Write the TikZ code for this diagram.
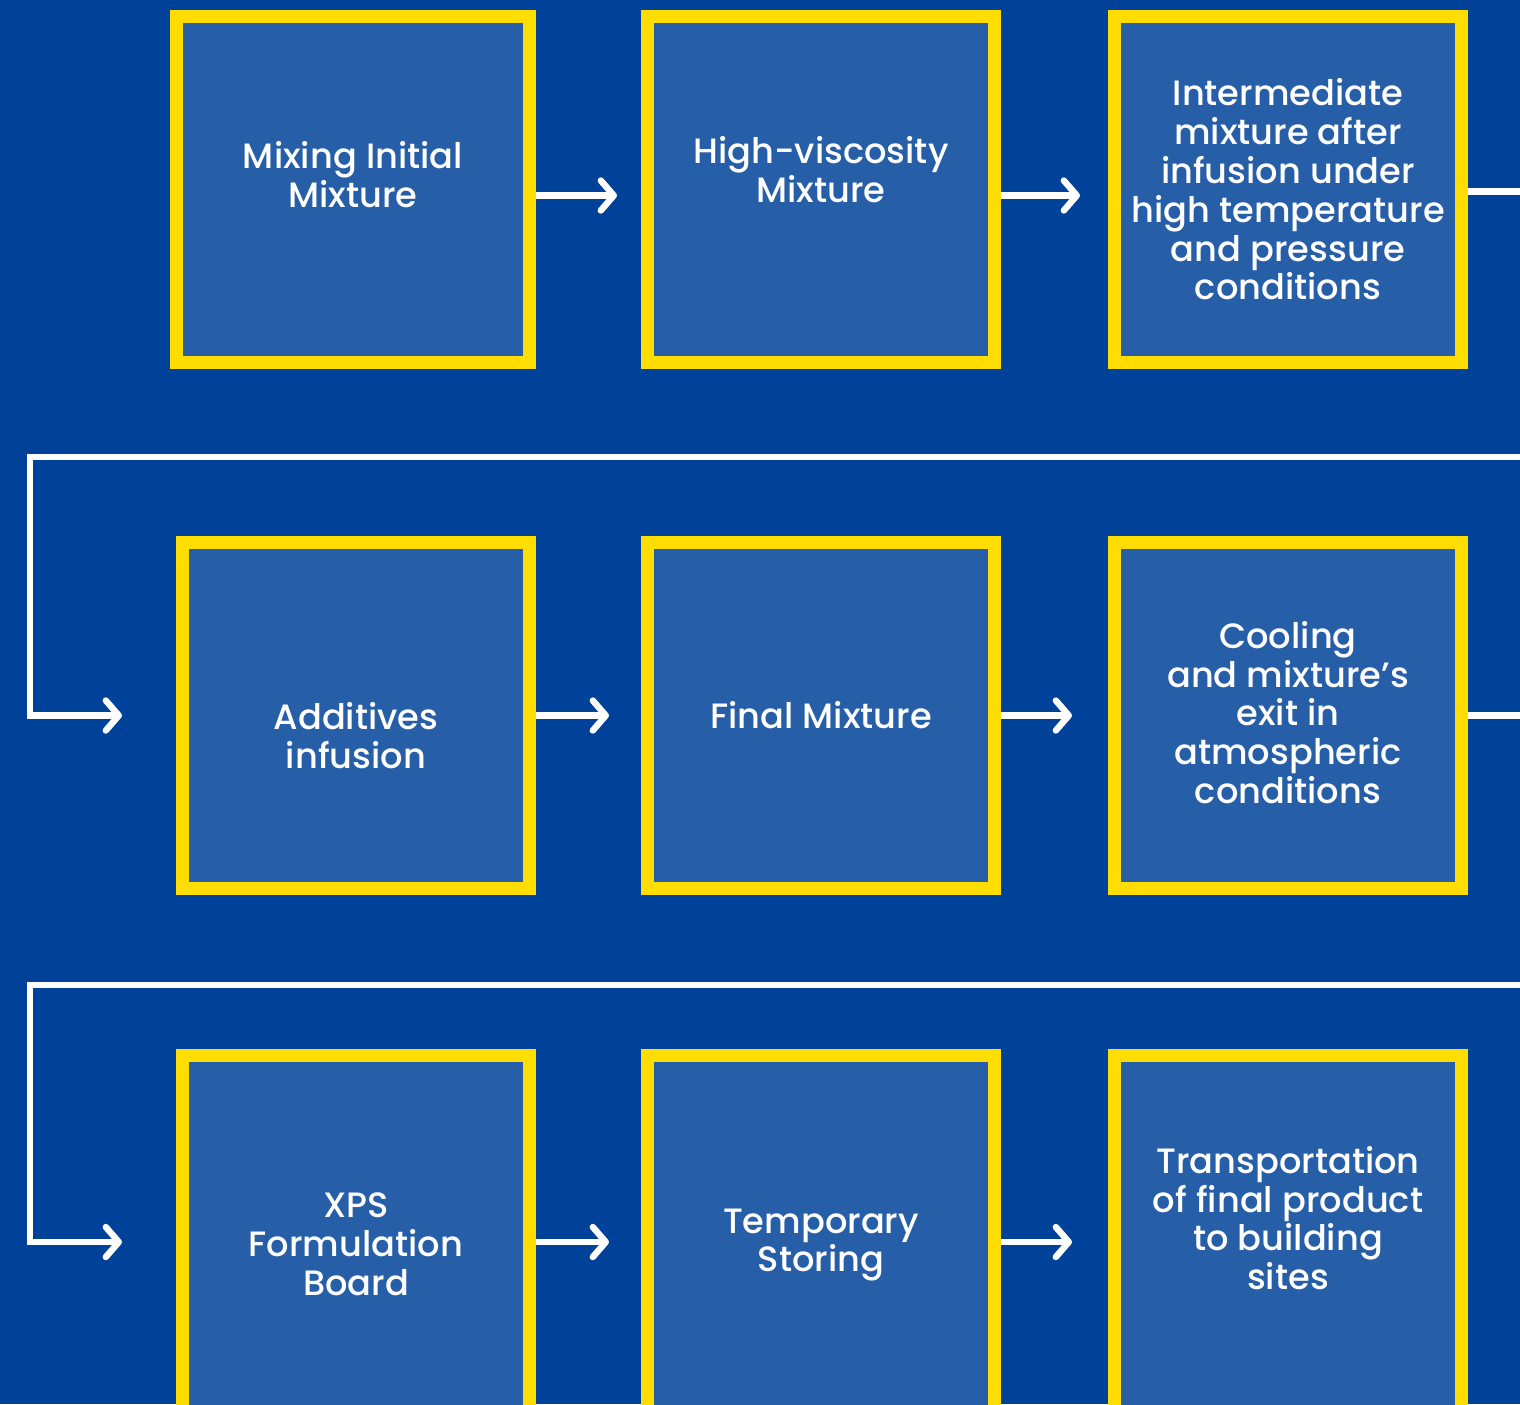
\documentclass[tikz,border=0pt]{standalone}
\usepackage{fontspec}
\setmainfont{Poppins}[UprightFont=* Medium]
\usetikzlibrary{arrows.meta}
\definecolor{bgblue}{RGB}{0,65,153}
\definecolor{boxblue}{RGB}{39,94,168}
\definecolor{boxyellow}{RGB}{255,221,0}
\tikzset{
  stepbox/.style={draw=boxyellow, line width=6.5pt, fill=boxblue,
    inner sep=0pt, minimum width=173.5pt, minimum height=173pt},
  steptext/.style={text=white, align=center, inner sep=0pt,
    font=\fontsize{17.6}{19.4}\selectfont},
  flow/.style={draw=white, line width=3.2pt, shorten >=12pt,
    -{Straight Barb[length=6.5pt, width=15pt, round]}},
  wire/.style={draw=white, line width=3.2pt}
}

\begin{document}
\begin{tikzpicture}[x=0.5pt, y=-0.5pt]
\useasboundingbox (0,0) rectangle (1520,1404);
\clip (0,0) rectangle (1520,1404);
\fill[bgblue] (0,0) rectangle (1520,1404);

%%%%%%%%%%
% Row 1
%%%%%%%%%%
\node[stepbox, minimum width=176.5pt, label={[steptext, yshift=7.5pt]center:Mixing Initial\\Mixture}] (mix) at (353,189.5) {};
\node[stepbox, label={[steptext, yshift=10pt]center:High-viscosity\\Mixture}] (visc) at (821,189.5) {};
\node[stepbox, label={[steptext]center:Intermediate\\mixture after\\infusion under\\high temperature\\and pressure\\conditions}] (inter) at (1288,189.5) {};

%%%%%%%%%%
% Row 2
%%%%%%%%%%
\node[stepbox, label={[steptext, yshift=-10pt]center:Additives\\infusion}] (addit) at (356,715.5) {};
\node[stepbox, label={[steptext]center:Final Mixture}] (final) at (821,715.5) {};
\node[stepbox, label={[steptext, yshift=1.5pt]center:Cooling\\and mixture’s\\exit in\\atmospheric\\conditions}] (cool) at (1288,715.5) {};

%%%%%%%%%%
% Row 3 (runs off the page)
%%%%%%%%%%
\node[stepbox, minimum height=186.5pt, label={[steptext, yshift=-1pt]center:XPS\\Formulation\\Board}] (xps) at (356,1242) {};
\node[stepbox, minimum height=186.5pt, label={[steptext, yshift=-1.5pt]center:Temporary\\Storing}] (store) at (821,1242) {};
\node[stepbox, minimum height=186.5pt, label={[steptext, yshift=12pt]center:Transportation\\of final product\\to building\\sites}] (trans) at (1288,1242) {};

% arrows within rows
\draw[flow] ([yshift=-3pt]mix.east) -- ([yshift=-3pt]visc.west);
\draw[flow, shorten >=14pt] ([yshift=-3pt]visc.east) -- ([yshift=-3pt]inter.west);
\draw[flow, shorten >=16pt] (addit) -- (final);
\draw[flow, shorten >=18pt] (final) -- (cool);
\draw[flow, shorten >=16pt] (xps) -- (store);
\draw[flow, shorten >=18pt] (store) -- (trans);

% row breaks
\coordinate (edge1) at (1530,457);
\coordinate (turn1) at (30,457);
\coordinate (edge2) at (1530,985);
\coordinate (turn2) at (30,985);
\draw[wire] ([yshift=-1pt]inter.east) -- ([yshift=-1pt]inter.east -| edge1);
\draw[flow, shorten >=27pt] (edge1) -- (turn1) |- (addit.west);
\draw[wire] (cool.east) -- (cool.east -| edge2);
\draw[flow, shorten >=27pt] (edge2) -- (turn2) |- (xps.west);

\end{tikzpicture}
\end{document}
